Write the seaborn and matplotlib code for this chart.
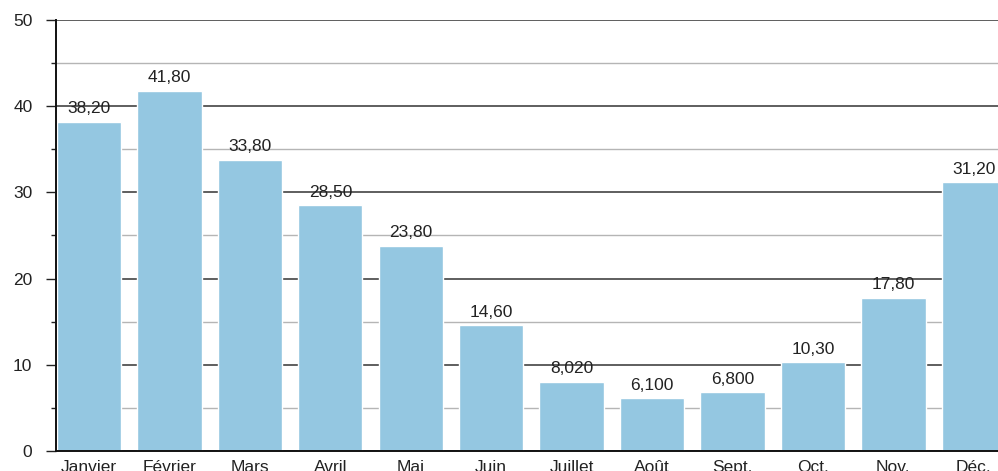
import matplotlib
matplotlib.use("Agg")
import matplotlib.pyplot as plt
from matplotlib.ticker import MultipleLocator
import seaborn as sns
import pandas as pd

months = ["Janvier", "Février", "Mars", "Avril", "Mai", "Juin",
          "Juillet", "Août", "Sept.", "Oct.", "Nov.", "Déc."]
values = [38.2, 41.8, 33.8, 28.5, 23.8, 14.6, 8.02, 6.1, 6.8, 10.3, 17.8, 31.2]
value_labels = ["38,20", "41,80", "33,80", "28,50", "23,80", "14,60",
                "8,020", "6,100", "6,800", "10,30", "17,80", "31,20"]

sns.set_style("white")
plt.rcParams['font.family'] = ['Liberation Sans', 'DejaVu Sans']

df = pd.DataFrame({"mois": months, "valeur": values})

fig = plt.figure(figsize=(9.98, 4.71), dpi=100)
ax = fig.add_axes([56 / 998, 20 / 471, 1 - 56 / 998, 431 / 471])

sns.barplot(data=df, x="mois", y="valeur", color="#94c7e1", width=0.8,
            saturation=1, ax=ax, zorder=3)

ax.set_xlim(-0.41, 11.30)
ax.set_ylim(0, 50)
ax.yaxis.set_major_locator(MultipleLocator(10))
ax.yaxis.set_minor_locator(MultipleLocator(5))
ax.grid(which="major", axis="y", color="#333333", linewidth=1.1, zorder=1)
ax.grid(which="minor", axis="y", color="#b5b5b5", linewidth=1.0, zorder=1)
ax.set_axisbelow(True)

for i, lab in enumerate(value_labels):
    ax.annotate(lab, (i, values[i]), xytext=(0, 4), textcoords="offset points",
                ha="center", va="bottom", fontsize=12.5, color="#222222", zorder=4)

ax.set_xlabel("")
ax.set_ylabel("")
for s in ["top", "right"]:
    ax.spines[s].set_visible(False)
for s in ["left", "bottom"]:
    ax.spines[s].set_color("#111111")
    ax.spines[s].set_linewidth(1.4)
    ax.spines[s].set_zorder(5)

ax.tick_params(axis="y", which="major", left=True, length=7, width=1.0,
               color="#222222", pad=10, labelsize=12.5, labelcolor="#222222")
ax.tick_params(axis="y", which="minor", left=True, length=3.5, width=1.0,
               color="#222222")
ax.tick_params(axis="x", bottom=False, pad=3, labelsize=12.5, labelcolor="#222222")

fig.savefig("out.png", dpi=100)
